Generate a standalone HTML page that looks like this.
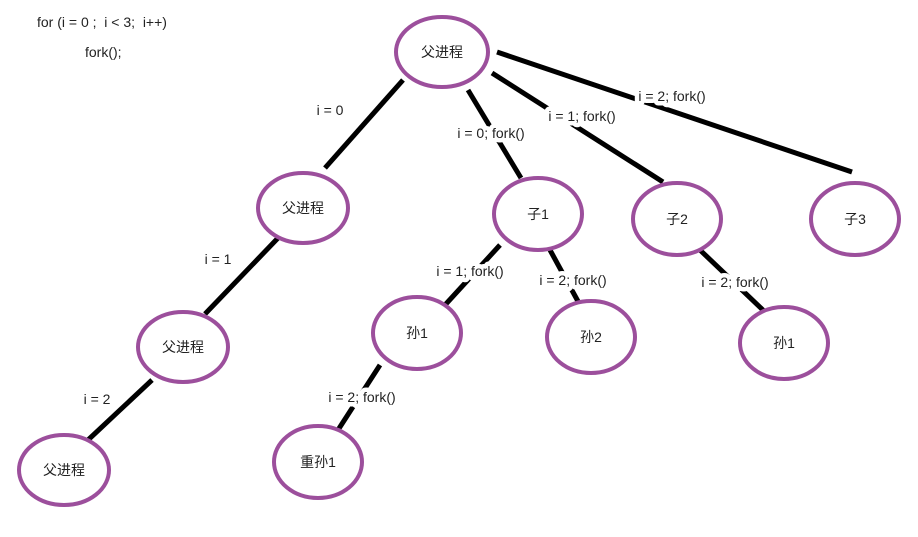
<!DOCTYPE html>
<html><head><meta charset="utf-8"><style>
html,body{margin:0;padding:0;background:#fff;}
svg{display:block;}
text{font-family:"Liberation Sans","Noto Sans CJK SC",sans-serif;font-size:14px;fill:#222;}
.l{stroke:#fff;stroke-width:9px;paint-order:stroke;stroke-linejoin:round;}
</style></head><body>
<svg width="918" height="537" viewBox="0 0 918 537" xmlns="http://www.w3.org/2000/svg">
<rect width="918" height="537" fill="#fff"/>
<g stroke="#000" stroke-width="5" stroke-linecap="butt">
<line x1="403" y1="80" x2="325" y2="168"/>
<line x1="468" y1="90" x2="521" y2="178"/>
<line x1="492" y1="73" x2="663" y2="182"/>
<line x1="497" y1="52" x2="852" y2="172"/>
<line x1="278" y1="238" x2="205" y2="314"/>
<line x1="152" y1="380" x2="88" y2="440"/>
<line x1="500" y1="245" x2="445" y2="305"/>
<line x1="550" y1="250" x2="580" y2="305"/>
<line x1="700" y1="250" x2="765" y2="312"/>
<line x1="380" y1="365" x2="338" y2="430"/>
</g>
<g fill="#fff" stroke="#9c4f9c" stroke-width="4">
<ellipse cx="442" cy="52" rx="46" ry="35"/>
<ellipse cx="303" cy="208" rx="45" ry="35"/>
<ellipse cx="183" cy="347" rx="45" ry="35"/>
<ellipse cx="64" cy="470" rx="45" ry="35"/>
<ellipse cx="538" cy="214" rx="44" ry="36"/>
<ellipse cx="677" cy="219" rx="44" ry="36"/>
<ellipse cx="855" cy="219" rx="44" ry="36"/>
<ellipse cx="417" cy="333" rx="44" ry="36"/>
<ellipse cx="591" cy="337" rx="44" ry="36"/>
<ellipse cx="784" cy="343" rx="44" ry="36"/>
<ellipse cx="318" cy="462" rx="44" ry="36"/>
</g>
<g text-anchor="middle">
<text x="442" y="57">父进程</text>
<text x="303" y="213">父进程</text>
<text x="183" y="352">父进程</text>
<text x="64" y="475">父进程</text>
<text x="538" y="219">子1</text>
<text x="677" y="224">子2</text>
<text x="855" y="224">子3</text>
<text x="417" y="338">孙1</text>
<text x="591" y="342">孙2</text>
<text x="784" y="348">孙1</text>
<text x="318" y="467">重孙1</text>
</g>
<g text-anchor="middle">
<text class="l" x="330" y="115">i = 0</text>
<text class="l" x="491" y="138">i = 0; fork()</text>
<text class="l" x="582" y="121">i = 1; fork()</text>
<text class="l" x="672" y="101">i = 2; fork()</text>
<text class="l" x="218" y="264">i = 1</text>
<text class="l" x="97" y="404">i = 2</text>
<text class="l" x="470" y="276">i = 1; fork()</text>
<text class="l" x="573" y="285">i = 2; fork()</text>
<text class="l" x="735" y="287">i = 2; fork()</text>
<text class="l" x="362" y="402">i = 2; fork()</text>
</g>
<text x="37" y="27" xml:space="preserve">for (i = 0 ;  i &lt; 3;  i++)</text>
<text x="85" y="57">fork();</text>
</svg>
</body></html>
